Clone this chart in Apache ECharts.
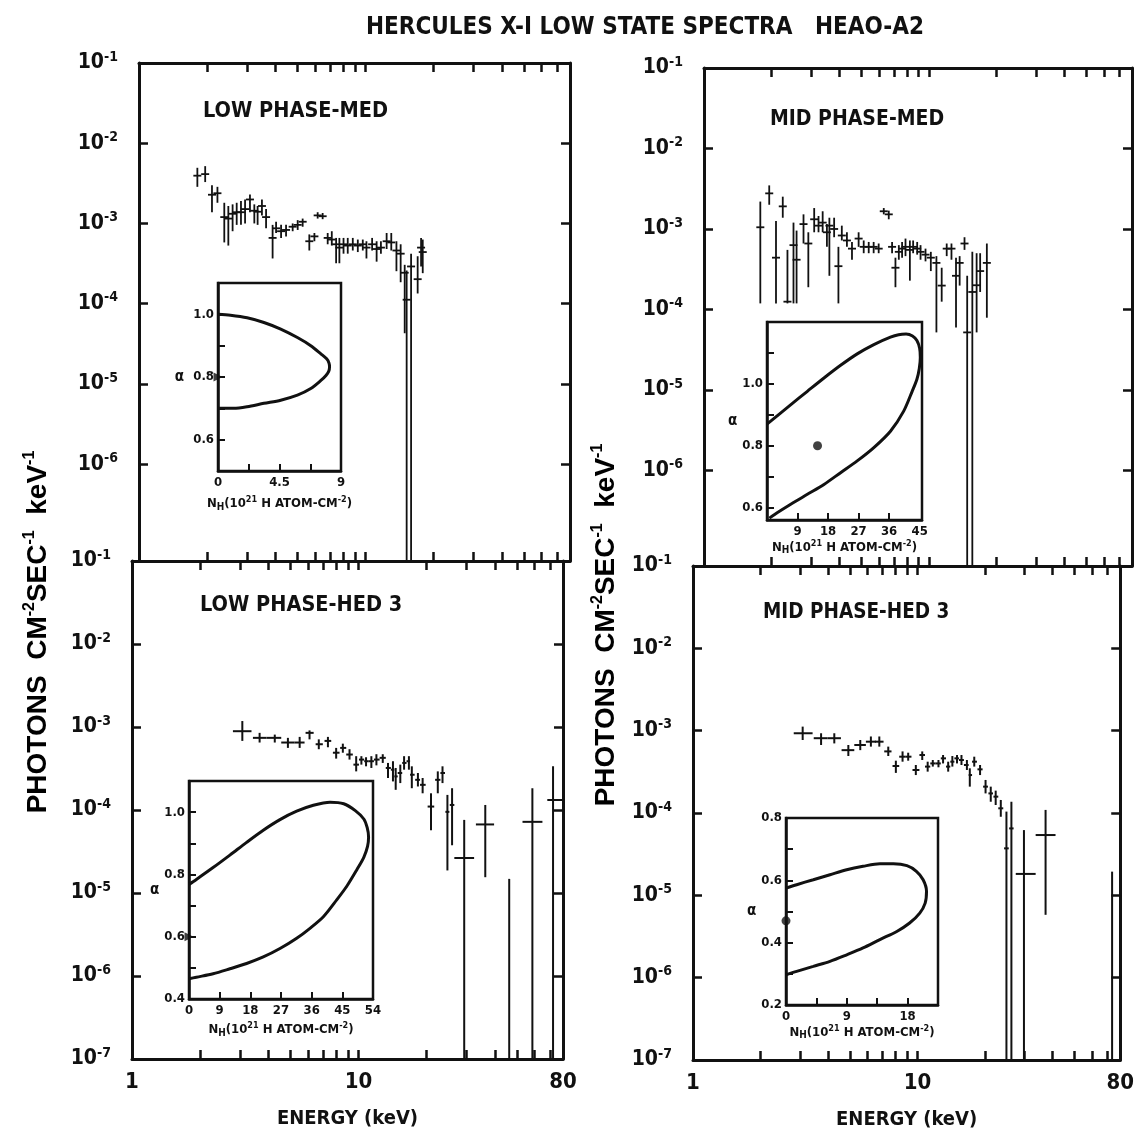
<!DOCTYPE html>
<html>
<head>
<meta charset="utf-8">
<script src="https://cdn.jsdelivr.net/npm/echarts@6/dist/echarts.min.js"></script>
<style>
  html, body { margin: 0; padding: 0; background: #fff; }
  #chart { width: 1137px; height: 1141px; }
</style>
</head>
<body>
<div id="chart"></div>
<script>
// ---------------- axis ticks / labels ----------------
const energyTicks = [2, 3, 4, 5, 6, 7, 8, 9, 10, 20, 30, 40, 50, 60, 70];
const energyLabels = [1, 10, 80];
const fluxTicks = [1e-2, 1e-3, 1e-4, 1e-5, 1e-6];
const fluxLabelsUpper = [1e-1, 1e-2, 1e-3, 1e-4, 1e-5, 1e-6];
const fluxLabelsLower = [1e-1, 1e-2, 1e-3, 1e-4, 1e-5, 1e-6, 1e-7];

// ---------------- LOW PHASE - MED ----------------
const lowMedE = [1.81,1.96,2.10,2.22,2.38,2.48,2.59,2.70,2.82,2.94,3.09,3.23,3.34,3.49,3.64,3.89,4.03,4.24,4.46,4.77,5.02,5.28,5.65,5.95,6.15,6.47,6.81,7.10,7.42,7.67,8.00,8.35,8.79,9.25,9.73,10.1,10.7,11.2,11.7,12.4,13.0,13.7,14.3,14.9,15.2,15.9,17.0,17.6,17.9];
const lowMedF = [3.94e-3,4.12e-3,2.28e-3,2.38e-3,1.20e-3,1.15e-3,1.32e-3,1.38e-3,1.38e-3,1.51e-3,1.99e-3,1.44e-3,1.40e-3,1.65e-3,1.20e-3,6.6e-4,8.7e-4,8.0e-4,8.3e-4,9.1e-4,9.6e-4,1.05e-3,6.0e-4,6.9e-4,1.26e-3,1.23e-3,6.6e-4,6.3e-4,5.5e-4,5.0e-4,5.5e-4,5.3e-4,5.5e-4,5.3e-4,5.5e-4,5.0e-4,5.5e-4,4.8e-4,5.0e-4,6.0e-4,5.8e-4,4.6e-4,4.2e-4,2.43e-4,1.12e-4,2.91e-4,2.02e-4,5.0e-4,4.4e-4];
const lowMedUp = [4.94e-3,5.18e-3,2.99e-3,2.86e-3,1.81e-3,1.65e-3,1.73e-3,1.81e-3,1.90e-3,1.99e-3,2.3e-3,1.73e-3,1.65e-3,1.99e-3,1.51e-3,9.6e-4,1.05e-3,9.6e-4,9.6e-4,1.0e-3,1.10e-3,1.15e-3,7.3e-4,7.6e-4,1.38e-3,1.35e-3,7.6e-4,8.0e-4,6.6e-4,6.6e-4,6.6e-4,6.6e-4,6.6e-4,6.3e-4,6.3e-4,6.0e-4,6.6e-4,6.0e-4,6.0e-4,7.6e-4,7.6e-4,6.0e-4,5.5e-4,3.05e-4,2.6e-4,4.2e-4,3.9e-4,6.6e-4,6.3e-4];
// 0 = error bar reaches zero flux (drawn down to the axis floor)
const lowMedDown = [2.86e-3,3.28e-3,1.38e-3,1.81e-3,5.8e-4,5.3e-4,8.0e-4,9.6e-4,9.6e-4,1.0e-3,1.38e-3,1.0e-3,9.6e-4,1.26e-3,8.7e-4,3.66e-4,7.6e-4,6.6e-4,6.9e-4,8.0e-4,8.3e-4,9.1e-4,4.6e-4,6.0e-4,1.15e-3,1.13e-3,5.5e-4,5.3e-4,3.19e-4,3.19e-4,4.2e-4,4.2e-4,4.6e-4,4.4e-4,4.6e-4,3.66e-4,4.6e-4,3.34e-4,4.2e-4,4.8e-4,4.6e-4,2.54e-4,1.85e-4,4.28e-5,0,0,1.34e-4,2.9e-4,2.4e-4];

// ---------------- MID PHASE - MED ----------------
const midMedE = [1.78,1.95,2.09,2.24,2.35,2.50,2.58,2.77,2.91,3.09,3.23,3.37,3.52,3.61,3.79,3.96,4.10,4.32,4.55,4.87,5.13,5.40,5.68,5.98,6.30,6.63,6.86,7.10,7.35,7.60,7.87,8.23,8.51,8.87,9.18,9.66,10.2,10.8,11.4,12.0,12.6,13.2,13.7,14.4,14.8,15.6,16.3,16.9,18.1];
const midMedF = [1.05e-3,2.77e-3,4.4e-4,1.91e-3,1.25e-4,6.3e-4,4.15e-4,1.15e-3,6.6e-4,1.32e-3,1.10e-3,1.20e-3,9.1e-4,1.10e-3,1.0e-3,3.45e-4,8.3e-4,7.2e-4,5.7e-4,7.6e-4,6.0e-4,6.0e-4,6.0e-4,5.7e-4,1.66e-3,1.52e-3,6.0e-4,3.30e-4,5.2e-4,5.7e-4,6.0e-4,5.5e-4,6.0e-4,5.7e-4,5.2e-4,4.8e-4,4.4e-4,3.79e-4,1.98e-4,5.7e-4,5.7e-4,2.62e-4,3.79e-4,6.6e-4,5.19e-5,1.65e-4,2.0e-4,3.0e-4,3.79e-4];
const midMedUp = [2.19e-3,3.48e-3,1.26e-3,2.52e-3,5.5e-4,1.20e-3,9.55e-4,1.52e-3,9.1e-4,1.82e-3,1.45e-3,1.66e-3,1.15e-3,1.38e-3,1.38e-3,6.0e-4,1.10e-3,9.1e-4,6.9e-4,9.1e-4,7.2e-4,6.9e-4,6.9e-4,6.6e-4,1.82e-3,1.69e-3,6.9e-4,4.4e-4,6.3e-4,6.9e-4,7.6e-4,7.2e-4,7.2e-4,6.9e-4,6.3e-4,5.7e-4,5.2e-4,4.6e-4,3.30e-4,6.6e-4,6.6e-4,4.4e-4,4.6e-4,7.9e-4,2.62e-4,5.2e-4,5.0e-4,5.0e-4,6.6e-4];
const midMedDown = [1.19e-4,2.00e-3,1.19e-4,1.38e-3,1.19e-4,1.19e-4,1.19e-4,6.6e-4,1.89e-4,9.1e-4,9.1e-4,9.1e-4,6.0e-4,2.62e-4,7.9e-4,1.19e-4,7.2e-4,6.0e-4,4.15e-4,6.0e-4,5.0e-4,5.0e-4,5.0e-4,5.0e-4,1.52e-3,1.32e-3,5.0e-4,1.89e-4,4.15e-4,4.4e-4,4.6e-4,2.28e-4,5.0e-4,4.8e-4,4.15e-4,3.96e-4,3.0e-4,5.19e-5,1.25e-4,4.6e-4,4.15e-4,5.96e-5,1.98e-4,5.5e-4,0,0,5.19e-5,1.65e-4,7.9e-5];

// ---------------- LOW PHASE - HED 3 ----------------
const lowHedE = [3.07,3.66,4.27,4.88,5.50,6.08,6.68,7.33,7.97,8.53,9.13,9.77,10.3,10.8,11.4,12.0,12.8,13.5,14.2,14.6,15.3,15.9,16.7,17.2,18.3,19.2,20.9,22.4,23.5,24.7,25.9,29.3,36.3,46.3,58.6,72.3];
const lowHedELo = [2.79,3.42,3.92,4.56,5.23,5.84,6.47,7.08,7.71,8.30,8.83,9.5,10.05,10.6,11.1,11.7,12.4,13.2,13.9,14.4,14.9,15.6,16.3,16.9,17.8,18.7,20.2,21.8,23.0,24.2,25.3,26.5,33.0,46.3,53.0,68.2];
const lowHedEHi = [3.37,3.92,4.56,5.23,5.78,6.34,6.96,7.58,8.25,8.83,9.44,10.05,10.6,11.1,11.7,12.4,13.2,13.9,14.4,14.9,15.6,16.3,16.9,17.7,18.7,19.8,21.6,23.0,24.1,25.2,26.5,32.4,39.7,46.3,64.9,80];
const lowHedF = [8.9e-4,7.4e-4,7.4e-4,6.5e-4,6.5e-4,8.5e-4,6.2e-4,6.8e-4,4.9e-4,5.6e-4,4.66e-4,3.52e-4,4.05e-4,3.87e-4,3.87e-4,4.05e-4,4.25e-4,3.21e-4,3.06e-4,2.54e-4,2.79e-4,3.69e-4,3.87e-4,2.66e-4,2.31e-4,2.01e-4,1.10e-4,2.31e-4,2.79e-4,9.5e-5,1.15e-4,2.64e-5,6.7e-5,1.48e-5,7.2e-5,1.32e-4];
const lowHedUp = [1.18e-3,8.5e-4,8.1e-4,7.4e-4,7.6e-4,9.1e-4,7.1e-4,7.6e-4,5.6e-4,6.3e-4,5.4e-4,4.45e-4,4.45e-4,4.32e-4,4.45e-4,4.7e-4,4.7e-4,3.69e-4,3.87e-4,3.21e-4,3.52e-4,4.45e-4,4.45e-4,3.36e-4,2.79e-4,2.43e-4,1.59e-4,2.92e-4,3.36e-4,1.52e-4,1.83e-4,7.6e-5,1.15e-4,1.48e-5,1.83e-4,3.36e-4];
const lowHedDown = [6.8e-4,6.5e-4,6.5e-4,5.6e-4,5.6e-4,7.1e-4,5.4e-4,5.7e-4,4.16e-4,4.9e-4,4.05e-4,2.92e-4,3.52e-4,3.36e-4,3.21e-4,3.45e-4,3.69e-4,2.43e-4,2.21e-4,1.75e-4,2.11e-4,3.06e-4,3.06e-4,1.83e-4,1.92e-4,1.59e-4,5.7e-5,1.59e-4,2.11e-4,1.87e-5,3.76e-5,0,1.55e-5,0,0,0];

// ---------------- MID PHASE - HED 3 ----------------
const midHedE = [3.08,3.72,4.26,4.92,5.56,6.20,6.76,7.41,8.01,8.58,9.09,9.83,10.5,11.1,11.7,12.4,13.0,13.7,14.3,15.0,15.7,16.6,17.1,17.9,19.0,20.1,21.2,22.3,23.5,24.9,26.2,29.8,37.2,73.6];
const midHedELo = [2.81,3.45,3.98,4.59,5.23,5.89,6.46,7.11,7.74,8.29,8.87,9.50,10.2,10.8,11.4,12.0,12.7,13.4,14.0,14.6,15.3,16.1,16.9,17.5,18.5,19.6,20.7,21.8,22.9,24.3,25.6,27.4,33.6,73.6];
const midHedEHi = [3.41,3.98,4.56,5.23,5.89,6.53,7.06,7.66,8.29,8.87,9.40,10.2,10.8,11.4,12.0,12.7,13.4,14.0,14.6,15.3,16.1,16.9,17.5,18.4,19.5,20.6,21.7,22.9,24.1,25.5,26.8,33.6,41.2,73.6];
const midHedF = [9.3e-4,8.1e-4,8.1e-4,5.8e-4,6.7e-4,7.35e-4,7.35e-4,5.6e-4,3.72e-4,4.83e-4,4.83e-4,3.33e-4,5.06e-4,3.66e-4,4.0e-4,4.0e-4,4.61e-4,3.66e-4,4.2e-4,4.61e-4,4.4e-4,3.83e-4,2.89e-4,4.2e-4,3.39e-4,2.09e-4,1.73e-4,1.58e-4,1.14e-4,3.72e-5,6.5e-5,1.82e-5,5.4e-5,9.6e-6];
const midHedUp = [1.12e-3,9.3e-4,9.3e-4,6.7e-4,7.7e-4,8.5e-4,8.5e-4,6.4e-4,4.32e-4,5.6e-4,5.4e-4,3.83e-4,5.6e-4,4.2e-4,4.4e-4,4.4e-4,5.06e-4,4.2e-4,4.92e-4,5.06e-4,5.06e-4,4.4e-4,3.49e-4,4.83e-4,3.83e-4,2.52e-4,2.09e-4,1.87e-4,1.44e-4,1.04e-4,1.37e-4,6.2e-5,1.09e-4,1.94e-5];
const midHedDown = [7.7e-4,6.7e-4,7.0e-4,4.92e-4,5.8e-4,6.4e-4,6.4e-4,4.92e-4,3.07e-4,4.2e-4,4.32e-4,2.89e-4,4.4e-4,3.18e-4,3.66e-4,3.59e-4,4.0e-4,3.18e-4,3.66e-4,4.0e-4,3.83e-4,3.33e-4,2.09e-4,3.66e-4,2.89e-4,1.73e-4,1.37e-4,1.25e-4,9.0e-5,0,0,0,5.8e-6,0];

// ---------------- confidence contours (alpha vs N_H) ----------------
const lowMedNH    = [0,0.91,2.13,3.36,4.59,5.81,6.79,7.53,7.95,8.12,8.16,8.10,7.90,7.53,6.79,5.81,4.59,3.36,2.13,1.15,0.29,0];
const lowMedAlpha = [1.0,0.997,0.989,0.974,0.953,0.926,0.900,0.874,0.858,0.845,0.832,0.818,0.805,0.789,0.763,0.742,0.726,0.716,0.705,0.700,0.700,0.700];
const lowMedBest  = [0, 0.8];

const midMedNH    = [0,7.04,11.9,16.8,21.7,26.6,31.5,36.4,38.8,41.0,42.9,44.2,45.0,45.2,44.9,44.2,42.8,40.3,36.4,31.5,26.6,21.7,16.8,11.9,7.0,3.1,0.7];
const midMedAlpha = [0.87,0.933,0.976,1.019,1.060,1.097,1.127,1.151,1.159,1.161,1.155,1.140,1.115,1.085,1.050,1.015,0.976,0.912,0.847,0.794,0.751,0.713,0.675,0.643,0.611,0.584,0.566];
const midMedBest  = [14.9, 0.80];

const lowHedNH    = [0,2.16,7.07,12.0,16.9,21.8,26.7,31.6,36.5,41.4,45.4,48.8,51.3,52.3,52.7,52.4,51.3,49.3,46.3,43.4,39.5,35.5,31.6,26.7,21.8,16.9,12.0,7.07,2.16,0];
const lowHedAlpha = [0.768,0.784,0.822,0.862,0.903,0.942,0.976,1.003,1.022,1.032,1.027,1.005,0.978,0.950,0.920,0.890,0.855,0.816,0.762,0.719,0.665,0.627,0.595,0.562,0.535,0.514,0.497,0.481,0.470,0.465];
const lowHedBest  = [0, 0.6];

const midHedNH    = [0,1.58,4.04,6.51,8.98,11.4,13.9,15.9,17.9,19.3,20.3,20.8,20.6,19.8,18.3,16.4,13.9,11.4,8.98,6.51,4.04,1.58,0];
const midHedAlpha = [0.575,0.586,0.602,0.618,0.634,0.645,0.653,0.653,0.647,0.629,0.602,0.565,0.527,0.495,0.463,0.436,0.410,0.383,0.361,0.340,0.324,0.308,0.297];
const midHedBest  = [0, 0.47];

// inset axis ticks / labels
const lowMedNHTicks = [2.25, 4.5, 6.75],        lowMedNHLabels = [0, 4.5, 9];
const lowMedATicks  = [0.6, 0.7, 0.8, 0.9, 1.0], lowMedALabels  = [0.6, 0.8, 1.0];
const midMedNHTicks = [9, 18, 27, 36],          midMedNHLabels = [9, 18, 27, 36, 45];
const midMedATicks  = [0.6, 0.7, 0.8, 0.9, 1.0, 1.1], midMedALabels = [0.6, 0.8, 1.0];
const lowHedNHTicks = [9, 18, 27, 36, 45],      lowHedNHLabels = [0, 9, 18, 27, 36, 45, 54];
const lowHedATicks  = [0.5, 0.6, 0.7, 0.8, 0.9, 1.0], lowHedALabels = [0.4, 0.6, 0.8, 1.0];
const midHedNHTicks = [4.5, 9, 13.5, 18],       midHedNHLabels = [0, 9, 18];
const midHedATicks  = [0.3, 0.4, 0.5, 0.6, 0.7], midHedALabels = [0.2, 0.4, 0.6, 0.8];

// ---------------- styling / layout ----------------
const FONT = "'Liberation Sans Narrow','DejaVu Sans Condensed','Arial Narrow','Liberation Sans',sans-serif";
const WIDE = "'Liberation Sans','Arial',sans-serif";
const INK = '#111';

const supRich = {
  b: { fontFamily: FONT, fontWeight: 'bold', fontSize: 21, lineHeight: 26, color: INK },
  s: { fontFamily: FONT, fontWeight: 'bold', fontSize: 14, lineHeight: 10, verticalAlign: 'top', color: INK }
};
const smallRich = {
  t: { fontFamily: FONT, fontWeight: 'bold', fontSize: 13, lineHeight: 17, color: INK },
  sup: { fontFamily: FONT, fontWeight: 'bold', fontSize: 9, lineHeight: 7, verticalAlign: 'top', color: INK },
  sub: { fontFamily: FONT, fontWeight: 'bold', fontSize: 10, lineHeight: 8, verticalAlign: 'bottom', color: INK }
};

const panels = [
  { grid: { left: 139, top: 63, width: 431, height: 498 }, yMin: 6.2e-8, yLabels: fluxLabelsUpper, xLabels: false },
  { grid: { left: 704, top: 68, width: 428, height: 498 }, yMin: 6.5e-8, yLabels: fluxLabelsUpper, xLabels: false },
  { grid: { left: 132, top: 561, width: 431, height: 498 }, yMin: 1e-7, yLabels: fluxLabelsLower, xLabels: true },
  { grid: { left: 693, top: 566, width: 429, height: 494 }, yMin: 1e-7, yLabels: fluxLabelsLower, xLabels: true }
];

const insets = [
  { grid: { left: 218, top: 283, width: 123, height: 188 }, x: [0, 9],    y: [0.5, 1.1],
    xt: lowMedNHTicks, xl: lowMedNHLabels, yt: lowMedATicks, yl: lowMedALabels, xGap: 24, yGap: 34,
    nh: lowMedNH, a: lowMedAlpha, best: lowMedBest, bestSym: 'triangle' },
  { grid: { left: 767, top: 322, width: 155, height: 198 }, x: [0, 45.7], y: [0.56, 1.2],
    xt: midMedNHTicks, xl: midMedNHLabels, yt: midMedATicks, yl: midMedALabels, xGap: 18, yGap: 27,
    nh: midMedNH, a: midMedAlpha, best: midMedBest, bestSym: 'circle' },
  { grid: { left: 189, top: 781, width: 184, height: 218 }, x: [0, 54],   y: [0.4, 1.1],
    xt: lowHedNHTicks, xl: lowHedNHLabels, yt: lowHedATicks, yl: lowHedALabels, xGap: 22, yGap: 28,
    nh: lowHedNH, a: lowHedAlpha, best: lowHedBest, bestSym: 'triangle' },
  { grid: { left: 786, top: 818, width: 152, height: 187 }, x: [0, 22.5], y: [0.2, 0.8],
    xt: midHedNHTicks, xl: midHedNHLabels, yt: midHedATicks, yl: midHedALabels, xGap: 16, yGap: 28,
    nh: midHedNH, a: midHedAlpha, best: midHedBest, bestSym: 'circle' }
];

// ---------------- axes ----------------
const grids = [], xAxes = [], yAxes = [], series = [];

panels.forEach((p) => { grids.push(Object.assign({ show: false }, p.grid)); });
insets.forEach((ins) => {
  grids.push(Object.assign({ show: true, borderColor: INK, borderWidth: 2.5, backgroundColor: 'transparent' }, ins.grid));
});

function frameLine(w) { return { show: true, onZero: false, lineStyle: { color: INK, width: w } }; }

function mainX(gi, pos, labelled) {
  return {
    type: 'log', logBase: 10, gridIndex: gi, min: 1, max: 80, position: pos,
    axisLine: frameLine(3),
    axisTick: { show: true, inside: true, length: 9, customValues: energyTicks, lineStyle: { color: INK, width: 2.5 } },
    axisLabel: labelled ? {
      show: true, customValues: energyLabels, margin: 12,
      formatter: v => String(Math.round(v)),
      fontFamily: FONT, fontWeight: 'bold', fontSize: 22, color: INK
    } : { show: false },
    splitLine: { show: false },
    name: labelled ? 'ENERGY (keV)' : '',
    nameLocation: 'middle', nameGap: 50,
    nameTextStyle: { fontFamily: FONT, fontWeight: 'bold', fontSize: 20, color: INK }
  };
}
function mainY(gi, pos, p, labelled) {
  return {
    type: 'log', logBase: 10, gridIndex: gi, min: p.yMin, max: 0.1, position: pos,
    axisLine: frameLine(3),
    axisTick: { show: true, inside: true, length: 9, customValues: fluxTicks, lineStyle: { color: INK, width: 2.5 } },
    axisLabel: labelled ? {
      show: true, customValues: p.yLabels, margin: 21,
      formatter: v => '{b|10}{s|' + Math.round(Math.log10(v)) + '}',
      rich: supRich
    } : { show: false },
    splitLine: { show: false }
  };
}

panels.forEach((p, gi) => { xAxes.push(mainX(gi, 'bottom', p.xLabels)); });
panels.forEach((p, gi) => { xAxes.push(mainX(gi, 'top', false)); });
panels.forEach((p, gi) => { yAxes.push(mainY(gi, 'left', p, true)); });
panels.forEach((p, gi) => { yAxes.push(mainY(gi, 'right', p, false)); });

const insetLabelStyle = { fontFamily: FONT, fontWeight: 'bold', fontSize: 13, color: INK };
insets.forEach((ins, k) => {
  const gi = 4 + k;
  xAxes.push({
    type: 'value', gridIndex: gi, min: ins.x[0], max: ins.x[1], position: 'bottom',
    axisLine: frameLine(2.5),
    axisTick: { show: true, inside: true, length: 7, customValues: ins.xt, lineStyle: { color: INK, width: 2 } },
    axisLabel: Object.assign({ show: true, customValues: ins.xl, margin: 5, formatter: v => String(v) }, insetLabelStyle),
    splitLine: { show: false },
    name: '{t|N}{sub|H}{t|(10}{sup|21}{t| H ATOM-CM}{sup|-2}{t|)}',
    nameLocation: 'middle', nameGap: ins.xGap,
    nameTextStyle: { rich: smallRich }
  });
  yAxes.push({
    type: 'value', gridIndex: gi, min: ins.y[0], max: ins.y[1], position: 'left',
    axisLine: frameLine(2.5),
    axisTick: { show: true, inside: true, length: 7, customValues: ins.yt, lineStyle: { color: INK, width: 2 } },
    axisLabel: Object.assign({ show: true, customValues: ins.yl, margin: 4, formatter: v => v.toFixed(1) }, insetLabelStyle),
    splitLine: { show: false },
    name: 'α', nameLocation: 'middle', nameRotate: 0, nameGap: ins.yGap,
    nameTextStyle: { fontFamily: FONT, fontWeight: 'bold', fontSize: 15, color: INK }
  });
});

// ---------------- error-bar series ----------------
function errorBars(lineWidth, capPx) {
  return function (params, api) {
    const e = api.value(0), f = api.value(1), up = api.value(2), dn = api.value(3);
    const eLo = api.value(4), eHi = api.value(5);
    const cs = params.coordSys;
    const c = api.coord([e, f]);
    const yTop = api.coord([e, up])[1];
    const yBot = dn > 0 ? api.coord([e, dn])[1] : cs.y + cs.height;
    let x0, x1;
    if (eLo > 0) { x0 = api.coord([eLo, f])[0]; x1 = api.coord([eHi, f])[0]; }
    else { x0 = c[0] - capPx; x1 = c[0] + capPx; }
    const style = { stroke: INK, lineWidth: lineWidth };
    const children = [{ type: 'line', shape: { x1: c[0], y1: yTop, x2: c[0], y2: yBot }, style }];
    if (x1 - x0 > 0.5) children.push({ type: 'line', shape: { x1: x0, y1: c[1], x2: x1, y2: c[1] }, style });
    return { type: 'group', children };
  };
}

const medRows = (E, F, U, D) => E.map((e, i) => [e, F[i], U[i], D[i], 0, 0]);
const hedRows = (E, L, H, F, U, D) => E.map((e, i) => [e, F[i], U[i], D[i], L[i], H[i]]);

const panelData = [
  { rows: medRows(lowMedE, lowMedF, lowMedUp, lowMedDown), lw: 1.8, cap: 4 },
  { rows: medRows(midMedE, midMedF, midMedUp, midMedDown), lw: 1.8, cap: 4 },
  { rows: hedRows(lowHedE, lowHedELo, lowHedEHi, lowHedF, lowHedUp, lowHedDown), lw: 2, cap: 4 },
  { rows: hedRows(midHedE, midHedELo, midHedEHi, midHedF, midHedUp, midHedDown), lw: 2, cap: 4 }
];
panelData.forEach((pd, gi) => {
  series.push({
    type: 'custom', coordinateSystem: 'cartesian2d', xAxisIndex: gi, yAxisIndex: gi,
    clip: true, silent: true, encode: { x: 0, y: 1 },
    data: pd.rows, renderItem: errorBars(pd.lw, pd.cap)
  });
});

insets.forEach((ins, k) => {
  series.push({
    type: 'line', xAxisIndex: 8 + k, yAxisIndex: 8 + k, smooth: 0.3, symbol: 'none', silent: true,
    lineStyle: { color: INK, width: 3 },
    data: ins.nh.map((n, i) => [n, ins.a[i]])
  });
  series.push({
    type: 'scatter', xAxisIndex: 8 + k, yAxisIndex: 8 + k, silent: true, clip: false,
    symbol: ins.bestSym, symbolSize: 9,
    symbolRotate: ins.bestSym === 'triangle' ? -90 : 0,
    itemStyle: { color: INK },
    data: [ins.best]
  });
});

// ---------------- free text ----------------
function txt(x, y, text, size, align) {
  return {
    type: 'text', x: x, y: y, silent: true,
    style: { text: text, fill: INK, fontFamily: FONT, fontWeight: 'bold', fontSize: size,
             align: align || 'left', textAlign: align || 'left', verticalAlign: 'middle', textVerticalAlign: 'middle' }
  };
}
const yTitleRich = {
  b: { fontFamily: WIDE, fontWeight: 'bold', fontSize: 28, lineHeight: 32, color: INK },
  s: { fontFamily: WIDE, fontWeight: 'bold', fontSize: 16, lineHeight: 12, verticalAlign: 'top', color: INK }
};
function yTitle(x, y) {
  return {
    type: 'text', x: x, y: y, rotation: Math.PI / 2, silent: true,
    style: { text: '{b|PHOTONS  CM}{s|-2}{b|SEC}{s|-1}{b|  keV}{s|-1}', rich: yTitleRich,
             align: 'center', textAlign: 'center', verticalAlign: 'middle', textVerticalAlign: 'middle' }
  };
}

const graphics = [
  txt(645, 28, 'HERCULES X-I LOW STATE SPECTRA   HEAO-A2', 24, 'center'),
  txt(203, 111, 'LOW PHASE-MED', 21.5),
  txt(770, 120, 'MID PHASE-MED', 21),
  txt(200, 605, 'LOW PHASE-HED 3', 21.5),
  txt(763, 613, 'MID PHASE-HED 3', 20.5),
  yTitle(38, 632),
  yTitle(606, 625)
];

const chart = echarts.init(document.getElementById('chart'), null, { renderer: 'canvas' });
chart.setOption({
  backgroundColor: '#fff',
  animation: false,
  grid: grids,
  xAxis: xAxes,
  yAxis: yAxes,
  series: series,
  graphic: { elements: graphics }
});
</script>
</body>
</html>
